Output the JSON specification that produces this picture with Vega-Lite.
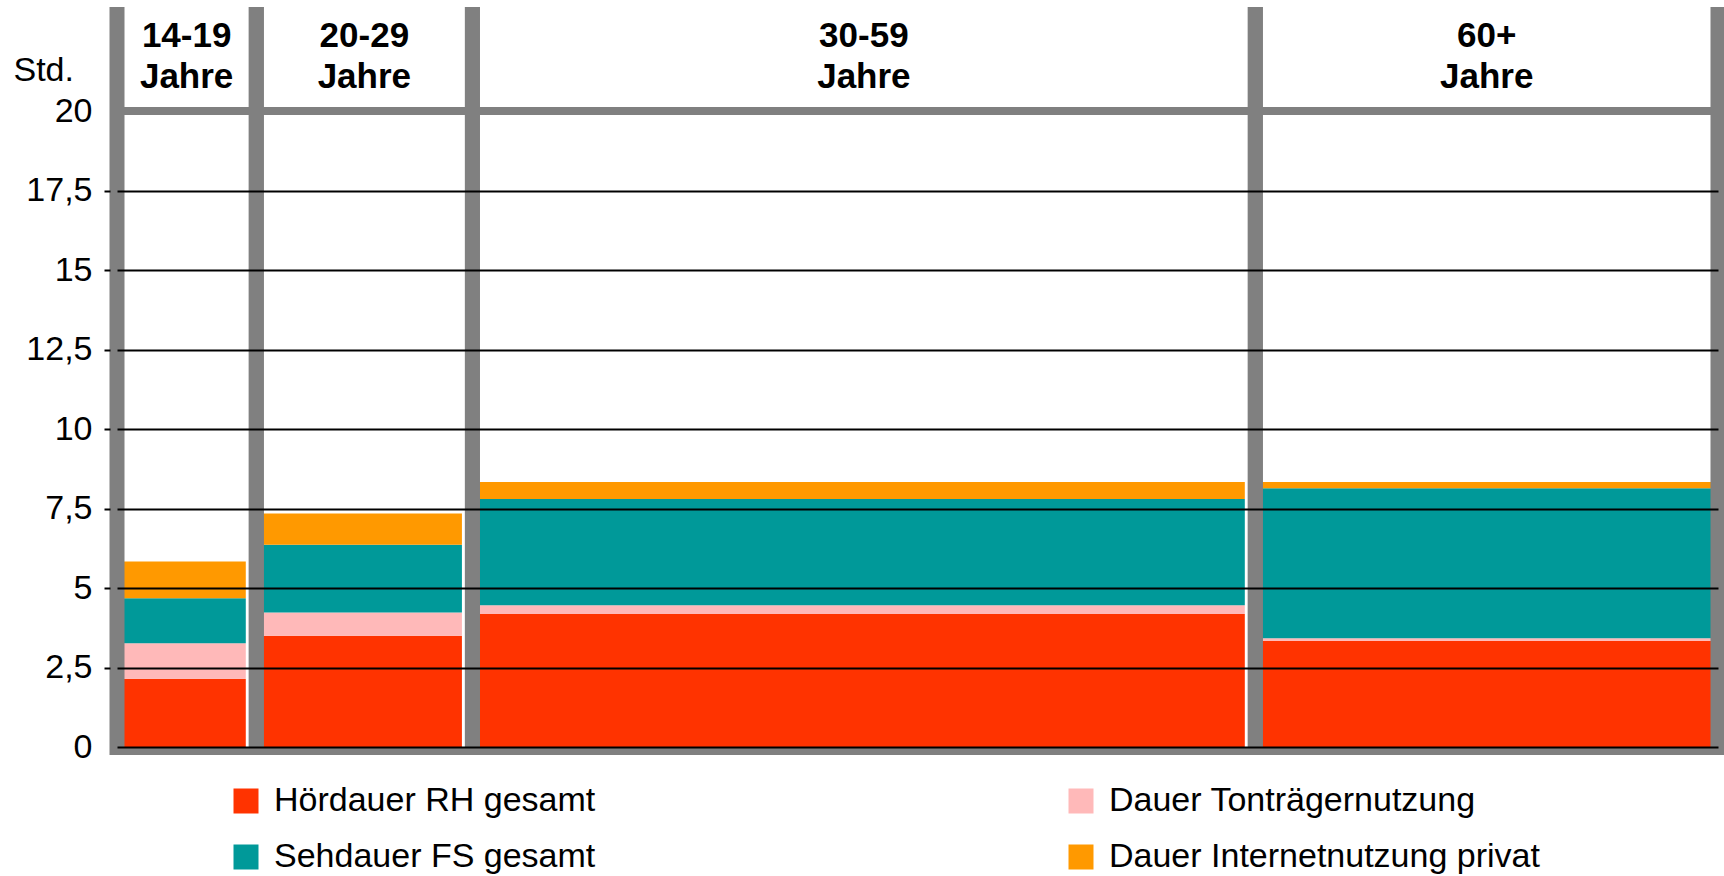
{
  "$schema": "https://vega.github.io/schema/vega-lite/v6.json",
  "autosize": {"type": "none"},
  "width": 1601,
  "height": 636,
  "padding": {"left": 117, "top": 111, "right": 6, "bottom": 129},
  "background": "white",
  "config": {"view": {"stroke": null}, "font": "Liberation Sans"},
  "data": {"values": [
    {"gruppe": "14-19 Jahre", "gruppe_nr": 1, "anteil": 8.7, "kategorie": "Hördauer RH gesamt", "kat_nr": 1, "stunden": 2.15},
    {"gruppe": "14-19 Jahre", "gruppe_nr": 1, "anteil": 8.7, "kategorie": "Dauer Tonträgernutzung", "kat_nr": 2, "stunden": 1.11},
    {"gruppe": "14-19 Jahre", "gruppe_nr": 1, "anteil": 8.7, "kategorie": "Sehdauer FS gesamt", "kat_nr": 3, "stunden": 1.42},
    {"gruppe": "14-19 Jahre", "gruppe_nr": 1, "anteil": 8.7, "kategorie": "Dauer Internetnutzung privat", "kat_nr": 4, "stunden": 1.15},
    {"gruppe": "20-29 Jahre", "gruppe_nr": 2, "anteil": 13.5, "kategorie": "Hördauer RH gesamt", "kat_nr": 1, "stunden": 3.5},
    {"gruppe": "20-29 Jahre", "gruppe_nr": 2, "anteil": 13.5, "kategorie": "Dauer Tonträgernutzung", "kat_nr": 2, "stunden": 0.73},
    {"gruppe": "20-29 Jahre", "gruppe_nr": 2, "anteil": 13.5, "kategorie": "Sehdauer FS gesamt", "kat_nr": 3, "stunden": 2.13},
    {"gruppe": "20-29 Jahre", "gruppe_nr": 2, "anteil": 13.5, "kategorie": "Dauer Internetnutzung privat", "kat_nr": 4, "stunden": 0.98},
    {"gruppe": "30-59 Jahre", "gruppe_nr": 3, "anteil": 48.9, "kategorie": "Hördauer RH gesamt", "kat_nr": 1, "stunden": 4.18},
    {"gruppe": "30-59 Jahre", "gruppe_nr": 3, "anteil": 48.9, "kategorie": "Dauer Tonträgernutzung", "kat_nr": 2, "stunden": 0.28},
    {"gruppe": "30-59 Jahre", "gruppe_nr": 3, "anteil": 48.9, "kategorie": "Sehdauer FS gesamt", "kat_nr": 3, "stunden": 3.34},
    {"gruppe": "30-59 Jahre", "gruppe_nr": 3, "anteil": 48.9, "kategorie": "Dauer Internetnutzung privat", "kat_nr": 4, "stunden": 0.53},
    {"gruppe": "60+ Jahre", "gruppe_nr": 4, "anteil": 28.9, "kategorie": "Hördauer RH gesamt", "kat_nr": 1, "stunden": 3.34},
    {"gruppe": "60+ Jahre", "gruppe_nr": 4, "anteil": 28.9, "kategorie": "Dauer Tonträgernutzung", "kat_nr": 2, "stunden": 0.08},
    {"gruppe": "60+ Jahre", "gruppe_nr": 4, "anteil": 28.9, "kategorie": "Sehdauer FS gesamt", "kat_nr": 3, "stunden": 4.72},
    {"gruppe": "60+ Jahre", "gruppe_nr": 4, "anteil": 28.9, "kategorie": "Dauer Internetnutzung privat", "kat_nr": 4, "stunden": 0.19}
  ]},
  "transform": [
    {"stack": "anteil", "groupby": ["kategorie"], "sort": [{"field": "gruppe_nr", "order": "ascending"}], "as": ["x0", "x1"]},
    {"stack": "stunden", "groupby": ["gruppe"], "sort": [{"field": "kat_nr", "order": "ascending"}], "as": ["y0", "y1"]}
  ],
  "layer": [
    {
      "mark": {"type": "bar", "stroke": null},
      "encoding": {
        "x": {"field": "x0", "type": "quantitative", "scale": {"domain": [0, 100], "nice": false}, "axis": null},
        "x2": {"field": "x1"},
        "y": {"field": "y0", "type": "quantitative", "scale": {"domain": [0, 20], "nice": false},
          "axis": {
            "values": [0, 2.5, 5, 7.5, 10, 12.5, 15, 17.5, 20],
            "title": "Std.", "titleAngle": 0, "titleAlign": "left", "titleBaseline": "alphabetic",
            "titleX": -97, "titleY": -31, "titleFont": "Liberation Sans", "titleFontSize": 34,
            "titleFontWeight": "normal", "titleColor": "black",
            "labelFont": "Liberation Sans", "labelFontSize": 34, "labelColor": "black", "labelPadding": 12,
            "labelExpr": "replace(toString(datum.value), '.', ',')",
            "domain": false, "ticks": true, "tickSize": 6, "tickColor": "black", "tickWidth": 2,
            "tickOpacity": {"condition": {"test": "datum.value == 0 || datum.value == 20", "value": 0}, "value": 1},
            "grid": true, "gridColor": "black", "gridWidth": 2,
            "gridOpacity": {"condition": {"test": "datum.value == 20", "value": 0}, "value": 1},
            "offset": 7, "zindex": 1
          }},
        "y2": {"field": "y1"},
        "color": {"field": "kategorie", "type": "nominal",
          "scale": {"domain": ["Hördauer RH gesamt", "Sehdauer FS gesamt", "Dauer Tonträgernutzung", "Dauer Internetnutzung privat"],
                    "range": ["#FF3300", "#009999", "#FFB9B9", "#FF9900"]},
          "legend": {"title": null, "orient": "none", "legendX": 112, "legendY": 673, "columns": 2,
            "columnPadding": 468, "rowPadding": 22, "padding": 0,
            "symbolType": "square", "symbolSize": 625, "symbolStrokeWidth": 0,
            "labelFont": "Liberation Sans", "labelFontSize": 34, "labelColor": "black", "labelOffset": 11, "labelLimit": 800}}
      }
    },
    {
      "transform": [{"filter": "datum.kat_nr == 1 && datum.gruppe_nr < 4"}],
      "mark": {"type": "rule", "color": "white", "strokeWidth": 15, "xOffset": -3},
      "encoding": {
        "x": {"field": "x1", "type": "quantitative"},
        "y": {"datum": -0.25},
        "y2": {"datum": 23.27}
      }
    },
    {
      "transform": [{"filter": "datum.kat_nr == 1"}],
      "mark": {"type": "rule", "color": "#808080", "strokeWidth": 15},
      "encoding": {
        "x": {"field": "x0", "type": "quantitative"},
        "y": {"datum": -0.25},
        "y2": {"datum": 23.27}
      }
    },
    {
      "transform": [{"filter": "datum.kat_nr == 1"}],
      "mark": {"type": "rule", "color": "#808080", "strokeWidth": 15},
      "encoding": {
        "x": {"field": "x1", "type": "quantitative"},
        "y": {"datum": -0.25},
        "y2": {"datum": 23.27}
      }
    },
    {
      "transform": [{"filter": "datum.kat_nr == 1 && datum.gruppe_nr == 1"}],
      "mark": {"type": "rule", "color": "#808080", "strokeWidth": 8},
      "encoding": {
        "x": {"datum": 0},
        "x2": {"datum": 100},
        "y": {"datum": 20}
      }
    },
    {
      "transform": [{"filter": "datum.kat_nr == 1 && datum.gruppe_nr == 1"}],
      "mark": {"type": "rule", "color": "#808080", "strokeWidth": 8, "yOffset": 4},
      "encoding": {
        "x": {"datum": 0},
        "x2": {"datum": 100},
        "y": {"datum": 0}
      }
    },
    {
      "transform": [
        {"filter": "datum.kat_nr == 1"},
        {"fold": ["x0", "x1"], "as": ["rand", "pos"]},
        {"aggregate": [{"op": "mean", "field": "pos", "as": "mitte"}], "groupby": ["gruppe"]}
      ],
      "mark": {"type": "text", "font": "Liberation Sans", "fontSize": 35, "fontWeight": "bold", "color": "black",
               "align": "center", "baseline": "alphabetic", "lineBreak": " ", "lineHeight": 41},
      "encoding": {
        "x": {"field": "mitte", "type": "quantitative"},
        "y": {"datum": 22.0},
        "text": {"field": "gruppe"}
      }
    }
  ]
}
